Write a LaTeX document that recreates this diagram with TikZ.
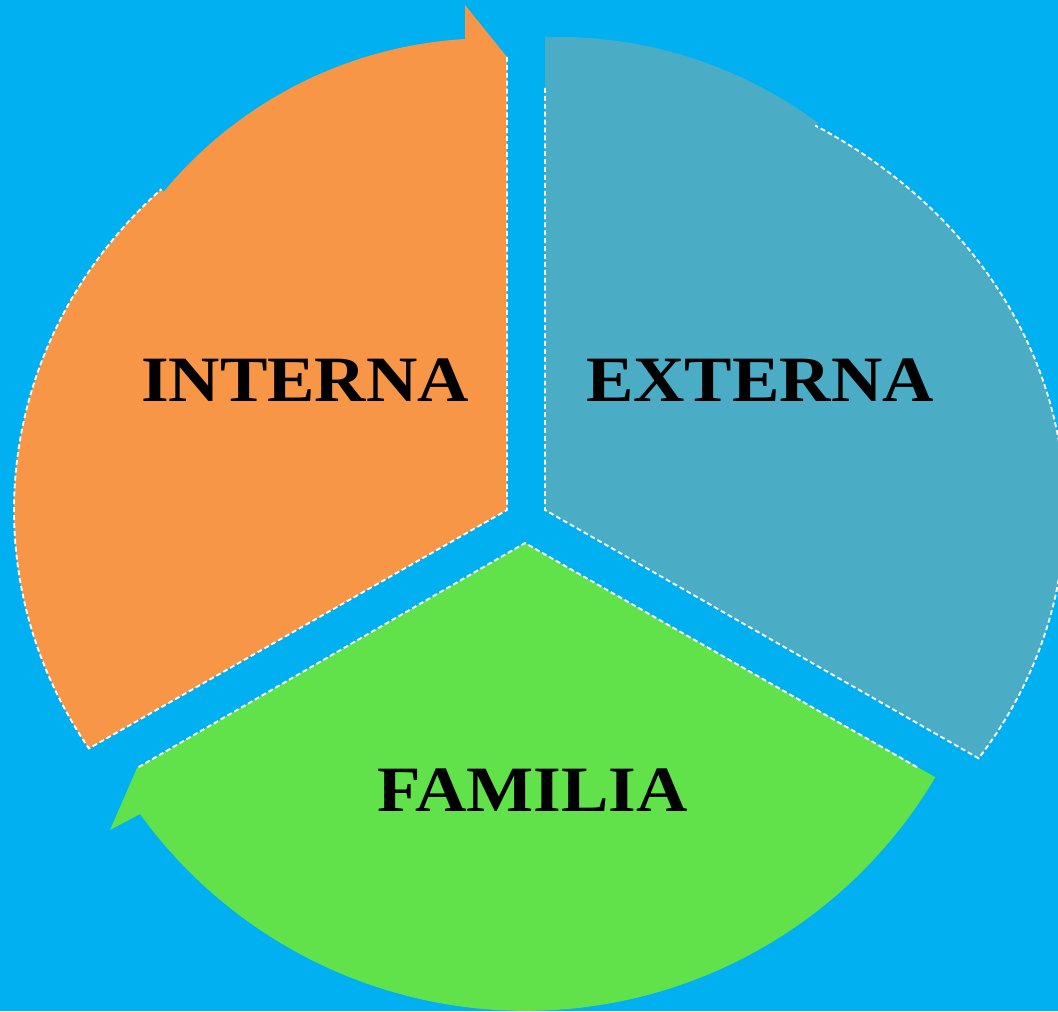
\documentclass[tikz,border=0pt]{standalone}
\usepackage{fontspec}
\setmainfont{Liberation Serif}
\usepackage{graphicx}
\usetikzlibrary{calc}
\definecolor{bgc}{RGB}{0,176,240}
\definecolor{orangec}{RGB}{247,150,70}
\definecolor{bluec}{RGB}{75,172,198}
\definecolor{greenc}{RGB}{98,226,74}
\tikzset{
  dashline/.style={draw=white, line width=1.05pt, dash pattern=on 2.8pt off 1.7pt},
  lbl/.style={inner sep=0pt, font=\fontsize{36.8}{40}\selectfont\bfseries, text=black}
}
\newcommand{\wide}[1]{\scalebox{1.1}[1]{#1}}
\begin{document}
\begin{tikzpicture}[x=0.02cm, y=0.02cm]
\fill[bgc] (0,0) rectangle (1058,1011);
\useasboundingbox (0,0) rectangle (1058,1011);
\clip (0,0) rectangle (1058,1011);
\coordinate (vo) at (507,501);
\coordinate (vb) at (545,501);
\coordinate (vg) at (525,468);
% orange segment
\fill[orangec] (vo) -- (507,954) -- (465,1006) -- (465,972)
  arc[start angle=93.4, end angle=140.4, radius=424]
  -- ($(vo)+(134.5:493 and 450)$)
  arc[start angle=134.5, end angle=212, x radius=493, y radius=450] -- cycle;
\draw[dashline] (507,954) -- (vo) -- ($(vo)+(212:493 and 450)$)
  arc[start angle=212, end angle=134.5, x radius=493, y radius=450];
% blue segment
\fill[bluec] (vb) -- (545,974)
  arc[start angle=91.6, end angle=53.4, radius=438]
  -- ($(vb)+(58.7:520 and 450)$)
  arc[start angle=58.7, end angle=-33.5, x radius=520, y radius=450] -- cycle;
\draw[dashline] (545,923) -- (vb) -- ($(vb)+(-33.5:520 and 450)$)
  arc[start angle=-33.5, end angle=58.7, x radius=520, y radius=450];
% green segment
\fill[greenc] (vg) -- (137,243) -- (110,181) -- (140,197)
  arc[start angle=215.9, end angle=329.4, radius=476] -- cycle;
\draw[dashline] (917,243.8) -- (vg) -- (137,243);
% labels
\node[lbl] (interna) at (305,631) {\wide{INTERNA}};
\node[lbl] (externa) at (760,631) {\wide{EXTERNA}};
\node[lbl] (familia) at (532.5,221) {\wide{FAMILIA}};
\end{tikzpicture}
\end{document}
